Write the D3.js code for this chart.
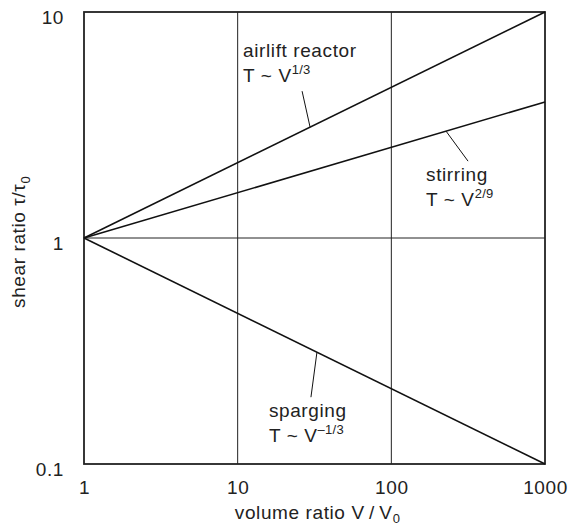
<!DOCTYPE html>
<html>
<head>
  <meta charset="UTF-8">
  <script src="https://d3js.org/d3.v7.min.js"></script>
  <style>
    body { margin: 0; background: #fff; }
    svg { font-family: "Liberation Sans", Arial, sans-serif; }
    .tick text { font-size: 19px; fill: #222; letter-spacing: 0.6px; }
    .lbl { font-size: 19px; fill: #222; letter-spacing: 0.6px; }
    .sup { font-size: 13px; letter-spacing: 0.3px; }
  </style>
</head>
<body>
  <svg width="570" height="526"></svg>
  <script>
    const xTicks = [1, 10, 100, 1000];
    const yTicks = [0.1, 1, 10];
    const xGrid = [10, 100];
    const yGrid = [1];

    // each series: volume ratio -> shear ratio
    const seriesNames = ["airlift", "stirring", "sparging"];
    const seriesV = [[1, 1000], [1, 1000], [1, 1000]];
    const seriesT = [[1, 10], [1, 4], [1, 0.1]];

    // label annotations
    const labelLine1 = ["airlift reactor", "stirring", "sparging"];
    const labelExp = ["1/3", "2/9", "\u20131/3"];
    const labelAnchorV = [29.6, 227, 32.8];

    const svg = d3.select("svg");
    const margin = { top: 12, right: 25, bottom: 62, left: 84 };
    const W = 570, H = 526;

    const x = d3.scaleLog().domain([1, 1000]).range([margin.left, W - margin.right]);
    const y = d3.scaleLog().domain([0.1, 10]).range([H - margin.bottom, margin.top]);

    // grid
    svg.append("g").selectAll("line").data(xGrid).join("line")
      .attr("x1", d => x(d)).attr("x2", d => x(d))
      .attr("y1", y(0.1)).attr("y2", y(10))
      .attr("stroke", "#222").attr("stroke-width", 1);
    svg.append("g").selectAll("line").data(yGrid).join("line")
      .attr("y1", d => y(d)).attr("y2", d => y(d))
      .attr("x1", x(1)).attr("x2", x(1000))
      .attr("stroke", "#222").attr("stroke-width", 1);

    // axes
    const gx = svg.append("g")
      .attr("transform", `translate(0,${y(0.1)})`)
      .call(d3.axisBottom(x).tickValues(xTicks).tickFormat(d3.format("d")).tickSize(0).tickPadding(17));
    gx.select(".domain").remove();

    const gy = svg.append("g")
      .attr("transform", `translate(${x(1)},0)`)
      .call(d3.axisLeft(y).tickValues(yTicks).tickFormat(d => String(d)).tickSize(0).tickPadding(20));
    gy.select(".domain").remove();
    gy.selectAll(".tick text").attr("dy", "0.62em");

    // frame
    svg.append("rect")
      .attr("x", x(1)).attr("y", y(10))
      .attr("width", x(1000) - x(1)).attr("height", y(0.1) - y(10))
      .attr("fill", "none").attr("stroke", "#222").attr("stroke-width", 1.8);

    // series lines
    const line = d3.line().x(d => x(d[0])).y(d => y(d[1]));
    seriesNames.forEach((name, i) => {
      const pts = seriesV[i].map((v, j) => [v, seriesT[i][j]]);
      svg.append("path").datum(pts)
        .attr("d", line)
        .attr("fill", "none").attr("stroke", "#111").attr("stroke-width", 1.6);
    });

    // annotations (leader offsets and text positions in px relative to anchor)
    const leaderOff = [[-8, -36], [22, 30], [-6, 45]];
    const textOff = [[-67, -70], [-20, 50], [-48, 65]];
    seriesNames.forEach((name, i) => {
      const v = labelAnchorV[i];
      const t = seriesT[i][0] * Math.pow(v, Math.log10(seriesT[i][1] / seriesT[i][0]) / 3);
      const ax = x(v), ay = y(t);
      svg.append("line")
        .attr("x1", ax).attr("y1", ay)
        .attr("x2", ax + leaderOff[i][0]).attr("y2", ay + leaderOff[i][1])
        .attr("stroke", "#111").attr("stroke-width", 1);
      const tx = ax + textOff[i][0], ty = ay + textOff[i][1];
      svg.append("text").attr("class", "lbl").attr("x", tx).attr("y", ty).text(labelLine1[i]);
      const t2 = svg.append("text").attr("class", "lbl").attr("x", tx).attr("y", ty + 25);
      t2.append("tspan").text("T ~ V");
      t2.append("tspan").attr("class", "sup").attr("dy", -8).text(labelExp[i]);
    });

    // axis titles
    const xt = svg.append("text").attr("class", "lbl")
      .attr("x", (x(1) + x(1000)) / 2 + 3).attr("y", 519)
      .attr("text-anchor", "middle");
    xt.append("tspan").text("volume ratio V\u2009/\u2009V");
    xt.append("tspan").attr("class", "sup").attr("dy", 4).text("0");

    const yt = svg.append("text").attr("class", "lbl")
      .attr("transform", `translate(25,${(y(0.1) + y(10)) / 2 + 4}) rotate(-90)`)
      .attr("text-anchor", "middle");
    yt.append("tspan").text("shear ratio \u03c4/\u03c4");
    yt.append("tspan").attr("class", "sup").attr("dy", 5).text("0");
  </script>
</body>
</html>
